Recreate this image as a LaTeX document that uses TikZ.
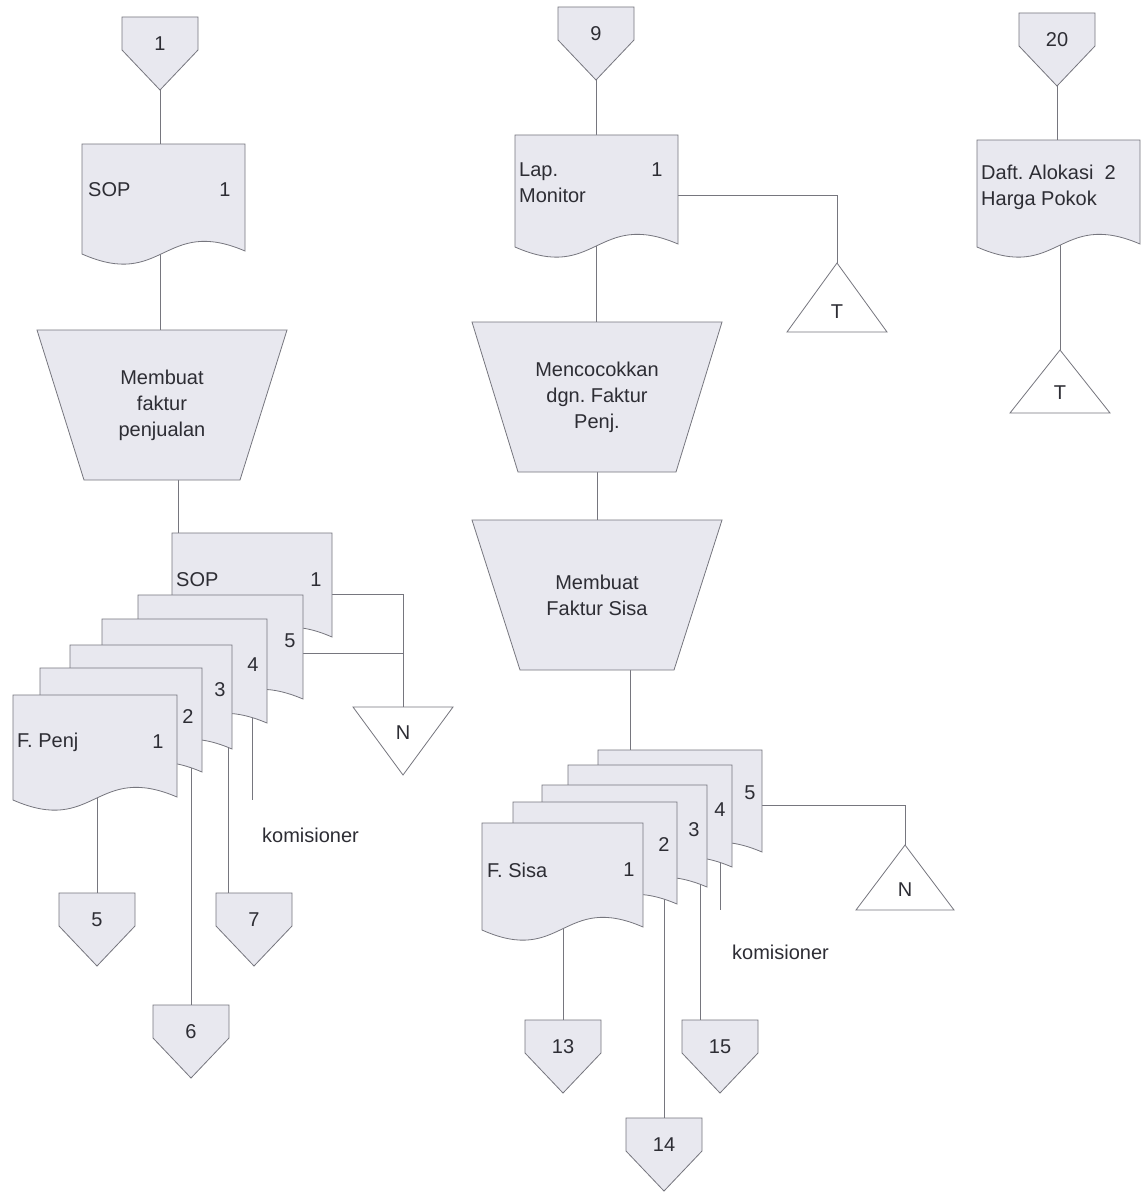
\documentclass[tikz,border=0pt]{standalone}
\usepackage{fontspec}
\setmainfont{Liberation Sans}
\usetikzlibrary{calc}
\pgfdeclarelayer{bg}
\pgfsetlayers{bg,main}
\definecolor{shfill}{RGB}{232,232,239}
\definecolor{lncol}{RGB}{118,118,126}
\definecolor{txcol}{RGB}{45,45,52}
\frenchspacing
\tikzset{
  shp/.style={fill=shfill, draw=lncol, line width=0.8pt},
  tri/.style={fill=white, draw=lncol, line width=0.8pt},
  conn/.style={draw=lncol, line width=0.8pt},
  box/.style={inner sep=0pt, outer sep=0pt, draw=none, rectangle},
  lbl/.style={text=txcol, font=\fontsize{20}{26}\selectfont, inner sep=0pt, align=center},
}
% document: name, x, y (top left), w, h
\newcommand\docshape[5]{%
  \filldraw[shp] (#2,#3) -- ({#2+#4},#3) -- ({#2+#4},{#3+#5-3})
    .. controls ({#2+0.5*#4},{#3+#5-38}) and ({#2+0.5*#4},{#3+#5+36}) .. (#2,{#3+#5}) -- cycle;
  \node[box, minimum width=#4, minimum height=#5, anchor=north west] (#1) at (#2,#3) {};}
% off-page connector: name, cx, top, label
\newcommand\opc[4]{%
  \filldraw[shp] ({#2-38},#3) -- ({#2+38},#3) -- ({#2+38},{#3+33}) -- (#2,{#3+73}) -- ({#2-38},{#3+33}) -- cycle;
  \node[box, minimum width=76, minimum height=73, anchor=north] (#1) at (#2,#3) {};
  \node[lbl] (#1-t) at (#2,{#3+27}) {#4};}
% manual operation: name, cx, top, bottom, half top, half bottom, text
\newcommand\trap[7]{%
  \filldraw[shp] ({#2-#5},#3) -- ({#2+#5},#3) -- ({#2+#6},#4) -- ({#2-#6},#4) -- cycle;
  \node[box, lbl, minimum width={2*#5}, minimum height={#4-#3}, anchor=north] (#1) at (#2,#3) {#7};}
% triangle up: name, cx, apex y, base y, half width, label
\newcommand\triup[6]{%
  \filldraw[tri] (#2,#3) -- ({#2+#5},#4) -- ({#2-#5},#4) -- cycle;
  \coordinate (#1-tip) at (#2,#3);
  \node[lbl] (#1) at (#2,{#4-20}) {#6};}
% triangle down: name, cx, base y, apex y, half width, label
\newcommand\tridown[6]{%
  \filldraw[tri] ({#2-#5},#3) -- ({#2+#5},#3) -- (#2,#4) -- cycle;
  \coordinate (#1-tip) at (#2,#3);
  \node[lbl] (#1) at (#2,{#3+26}) {#6};}

\begin{document}
\begin{tikzpicture}[x=1pt, y=-1pt]
\useasboundingbox (0,0) rectangle (1141,1196);

% ---------------- left column ----------------
\opc{c1}{160}{17}{1}
\docshape{sop}{82}{144}{163}{110}
\node[lbl, anchor=west] (sop-a) at (88,190) {SOP};
\node[lbl] (sop-b) at (225,190) {1};
\trap{trL}{162}{330}{480}{125}{78}{Membuat\\faktur\\penjualan}

\docshape{sb}{172}{533}{160}{107}
\node[lbl, anchor=west] (sb-a) at (176,580) {SOP};
\node[lbl] (sb-b) at (316,580) {1};
\docshape{l5}{138}{595}{165}{107}
\node[lbl] (l5-b) at (290,641) {5};
\docshape{l4}{102}{619}{165}{107}
\node[lbl] (l4-b) at (253,665) {4};
\docshape{l3}{70}{645}{162}{107}
\node[lbl] (l3-b) at (220,690) {3};
\docshape{l2}{40}{668}{162}{107}
\node[lbl] (l2-b) at (188,717) {2};
\docshape{l1}{13}{695}{164}{105}
\node[lbl, anchor=west] (l1-a) at (17,742) {F. Penj};
\node[lbl] (l1-b) at (158,742) {1};

\tridown{nl}{403}{707}{775}{50}{N}
\node[lbl, anchor=west] (komL) at (262,835) {komisioner};
\opc{c5}{97}{893}{5}
\opc{c7}{254}{893}{7}
\opc{c6}{191}{1005}{6}

% ---------------- middle column ----------------
\opc{c9}{596}{7}{9}
\docshape{lap}{515}{135}{163}{112}
\node[lbl, anchor=west, align=left] (lap-a) at (519,183) {Lap.\\Monitor};
\node[lbl] (lap-b) at (657,170) {1};
\triup{t1}{837}{263}{332}{50}{T}
\trap{trM1}{597}{322}{472}{125}{79}{Mencocokkan\\dgn. Faktur\\Penj.}
\trap{trM2}{597}{520}{670}{125}{77}{Membuat\\Faktur Sisa}

\docshape{m5}{598}{750}{164}{105}
\node[lbl] (m5-b) at (750,793) {5};
\docshape{m4}{568}{765}{164}{105}
\node[lbl] (m4-b) at (720,810) {4};
\docshape{m3}{542}{785}{165}{105}
\node[lbl] (m3-b) at (694,830) {3};
\docshape{m2}{513}{802}{164}{105}
\node[lbl] (m2-b) at (664,845) {2};
\docshape{m1}{482}{823}{161}{107}
\node[lbl, anchor=west] (m1-a) at (487,870) {F. Sisa};
\node[lbl] (m1-b) at (629,870) {1};

\triup{nm}{905}{845}{910}{49}{N}
\node[lbl, anchor=west] (komM) at (732,952) {komisioner};
\opc{c13}{563}{1020}{13}
\opc{c15}{720}{1020}{15}
\opc{c14}{664}{1118}{14}

% ---------------- right column ----------------
\opc{c20}{1057}{13}{20}
\docshape{daft}{977}{140}{163}{107}
\node[lbl, anchor=west, align=left] (daft-a) at (981,187) {Daft. Alokasi\ \ 2\\Harga Pokok};
\triup{t2}{1060}{350}{413}{50}{T}

% ---------------- connectors (behind the shapes) ----------------
\coordinate (sbin) at ([xshift=6pt]sb.north west);
\coordinate (sbout) at ([yshift=-61pt]sb.north east);
\coordinate (l5out) at ([yshift=-58pt]l5.north east);
\coordinate (l3d) at ([xshift=-4pt]l3.east);
\coordinate (l4d) at ([xshift=-15pt]l4.east);
\coordinate (l4end) at (252,800);
\coordinate (lapout) at ([yshift=-60pt]lap.north east);
\coordinate (m5in) at ([xshift=32pt]m5.north west);
\coordinate (m5out) at ([yshift=-55pt]m5.north east);
\coordinate (m3d) at ([xshift=-7pt]m3.east);
\coordinate (m4d) at ([xshift=-12pt]m4.east);
\coordinate (m4end) at (720,910);

\begin{pgfonlayer}{bg}
  \fill[white] (0,0) rectangle (1141,1196);
  % left
  \draw[conn] (c1.south) -- (c1.south |- sop.north);
  \draw[conn] (c1.south |- sop.center) -- (c1.south |- trL.north);
  \draw[conn] (sbin |- trL.south) -- (sbin);
  \draw[conn] (sbout) -| (nl-tip);
  \draw[conn] (l5out) -- (l5out -| nl-tip);
  \draw[conn] (c5.north |- l1.center) -- (c5.north);
  \draw[conn] (c6.north |- l2.center) -- (c6.north);
  \draw[conn] (l3d) -- (l3d |- c7.north);
  \draw[conn] (l4d) -- (l4end);
  % middle
  \draw[conn] (c9.south) -- (c9.south |- lap.north);
  \draw[conn] (c9.south |- lap.center) -- (c9.south |- trM1.north);
  \draw[conn] (lapout) -| (t1-tip);
  \draw[conn] (trM1.south) -- (trM2.north);
  \draw[conn] (m5in |- trM2.south) -- (m5in);
  \draw[conn] (m5out) -| (nm-tip);
  \draw[conn] (c13.north |- m1.center) -- (c13.north);
  \draw[conn] (c14.north |- m2.center) -- (c14.north);
  \draw[conn] (m3d) -- (m3d |- c15.north);
  \draw[conn] (m4d) -- (m4end);
  % right
  \draw[conn] (c20.south) -- (c20.south |- daft.north);
  \draw[conn] (t2-tip |- daft.center) -- (t2-tip);
\end{pgfonlayer}
\end{tikzpicture}
\end{document}
